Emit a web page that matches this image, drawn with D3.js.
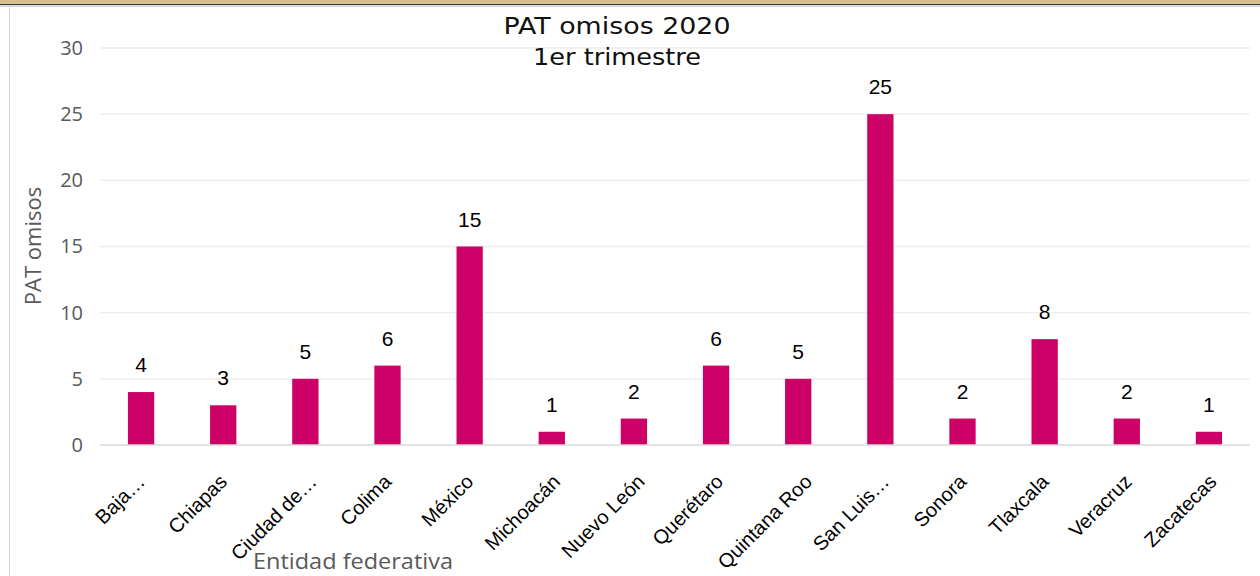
<!DOCTYPE html>
<html>
<head>
<meta charset="utf-8">
<script src="https://cdn.jsdelivr.net/npm/d3@7/dist/d3.min.js"></script>
<style>
  html, body { margin: 0; padding: 0; background: #fff; }
  svg { display: block; }
</style>
</head>
<body>
<svg id="chart" width="1260" height="576"></svg>
<script>
// Entidades con PAT omisos, primer trimestre 2020
const categories = ["Baja…", "Chiapas", "Ciudad de…", "Colima", "México", "Michoacán",
  "Nuevo León", "Querétaro", "Quintana Roo", "San Luis…", "Sonora", "Tlaxcala",
  "Veracruz", "Zacatecas"];
const values = [4, 3, 5, 6, 15, 1, 2, 6, 5, 25, 2, 8, 2, 1];
const yTicks = [0, 5, 10, 15, 20, 25, 30];
const titleLines = ["PAT omisos 2020", "1er trimestre"];

const svg = d3.select("#chart");
const W = 1260, H = 576;
const plot = { left: 100, right: 1250, top: 48, bottom: 445 };

// window frame
svg.append("rect").attr("x", 0).attr("y", 0).attr("width", W).attr("height", 4).attr("fill", "#D6BF90");
svg.append("rect").attr("x", 0).attr("y", 4).attr("width", W).attr("height", 1).attr("fill", "#3a3a3a");
svg.append("rect").attr("x", 0).attr("y", 5).attr("width", W).attr("height", 2).attr("fill", "#d9d9d9");
svg.append("rect").attr("x", 9).attr("y", 7).attr("width", 1).attr("height", H).attr("fill", "#d9d9d9");

const x = d3.scaleBand().domain(categories).range([plot.left, plot.right]).paddingInner(0.68).paddingOuter(0.34);
const y = d3.scaleLinear().domain([0, 30]).range([plot.bottom, plot.top]);

// gridlines
svg.append("g").selectAll("line").data(yTicks.filter(d => d > 0)).join("line")
  .attr("x1", plot.left).attr("x2", plot.right)
  .attr("y1", d => y(d)).attr("y2", d => y(d))
  .attr("stroke", "#ececec").attr("stroke-width", 1.3);

// y axis
const yAxis = svg.append("g").attr("transform", `translate(${plot.left},0)`)
  .call(d3.axisLeft(y).tickValues(yTicks).tickSize(0).tickPadding(17));
yAxis.select(".domain").remove();
yAxis.selectAll("text")
  .attr("font-family", "'Open Sans', 'Noto Sans', sans-serif")
  .attr("font-size", 20).attr("fill", "#595959");

// bars
svg.append("g").selectAll("rect").data(values).join("rect")
  .attr("x", (d, i) => x(categories[i]))
  .attr("width", x.bandwidth())
  .attr("y", d => y(d))
  .attr("height", d => y(0) - y(d))
  .attr("fill", "#CC0066");

// baseline
svg.append("line").attr("x1", plot.left).attr("x2", plot.right)
  .attr("y1", y(0)).attr("y2", y(0)).attr("stroke", "#d9d9d9").attr("stroke-width", 1.5);

// value labels
svg.append("g").selectAll("text").data(values).join("text")
  .attr("x", (d, i) => x(categories[i]) + x.bandwidth() / 2)
  .attr("y", d => y(d) - 20)
  .attr("text-anchor", "middle")
  .attr("font-family", "'Liberation Sans', Arial, sans-serif")
  .attr("font-size", 21).attr("fill", "#000")
  .text(d => d);

// x axis: rotated labels, longer ones drift slightly right of the tick
const xAxis = svg.append("g").attr("transform", `translate(0,${plot.bottom})`)
  .call(d3.axisBottom(x).tickSize(0));
xAxis.select(".domain").remove();
xAxis.selectAll("text")
  .attr("font-family", "'Liberation Sans', Arial, sans-serif")
  .attr("font-size", 20).attr("fill", "#000")
  .attr("text-anchor", "end")
  .attr("dy", null)
  .attr("y", 0)
  .attr("transform", function () {
    const len = this.getComputedTextLength();
    const dx = 5 + Math.max(0, 0.2 * (len - 73));
    return `translate(${dx.toFixed(1)},38) rotate(-45)`;
  });

// titles
const titleWidths = [227, 168];
svg.append("g").selectAll("text").data(titleLines).join("text")
  .attr("x", 617).attr("y", (d, i) => 34 + i * 31)
  .attr("text-anchor", "middle")
  .attr("font-family", "'DejaVu Sans', sans-serif")
  .attr("font-size", 23).attr("fill", "#111")
  .attr("textLength", (d, i) => titleWidths[i])
  .attr("lengthAdjust", "spacingAndGlyphs")
  .text(d => d);

// axis titles
svg.append("text")
  .attr("transform", `translate(41,${(185 + 307) / 2}) rotate(-90)`)
  .attr("text-anchor", "middle")
  .attr("font-family", "'Open Sans', 'Noto Sans', sans-serif")
  .attr("font-size", 22).attr("fill", "#595959")
  .text("PAT omisos");

svg.append("text")
  .attr("x", 353).attr("y", 569)
  .attr("text-anchor", "middle")
  .attr("font-family", "'Open Sans', 'Noto Sans', sans-serif")
  .attr("font-size", 22).attr("fill", "#595959")
  .attr("textLength", 200)
  .attr("lengthAdjust", "spacingAndGlyphs")
  .text("Entidad federativa");
</script>
</body>
</html>
